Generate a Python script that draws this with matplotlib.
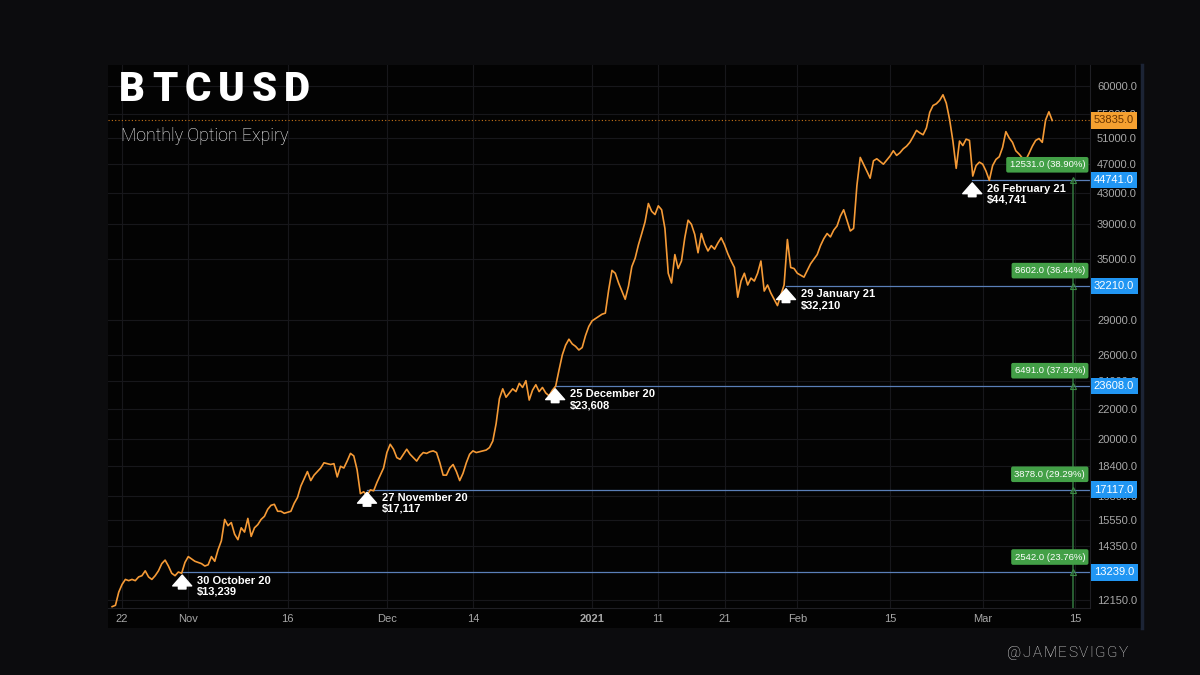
import matplotlib
matplotlib.use('Agg')
import matplotlib.pyplot as plt
import matplotlib.dates as mdates
import pandas as pd
from matplotlib.ticker import FuncFormatter, NullFormatter, NullLocator
from matplotlib.transforms import blended_transform_factory, offset_copy
from matplotlib.patches import Rectangle
from matplotlib.lines import Line2D

plt.rcParams['font.family'] = ['Liberation Sans', 'DejaVu Sans']

# BTCUSD, 12h closes, starting 2020-10-20 12:00
prices = [
    11900,
    11950, 12450, 12750, 12950, 12900, 12950, 12900, 13050, 13100, 13300,  # Oct 21-25
    13050, 12950, 13100, 13300, 13600, 13750, 13500, 13200, 13100, 13250,  # Oct 26-30
    13200, 13650, 13900, 13800, 13700, 13650, 13600, 13500, 13550, 13900,  # Oct 31-Nov 4
    13700, 14200, 14600, 15600, 15300, 15450, 14900, 14650, 15200, 15000,  # Nov 5-9
    15650, 14800, 15200, 15350, 15600, 15750, 16100, 16300, 16350, 16000,  # Nov 10-14
    16000, 15900, 15950, 16000, 16400, 16700, 17300, 17700, 18100, 17600,  # Nov 15-19
    17900, 18100, 18300, 18600, 18550, 18500, 18550, 17800, 18400, 18300,  # Nov 20-24
    18700, 19150, 19000, 18200, 16900, 17000, 16800, 17100, 17050, 17500,  # Nov 25-29
    17900, 18300, 19200, 19700, 19400, 18900, 18800, 19100, 19400, 19100,  # Nov 30-Dec 4
    18900, 18700, 19000, 19200, 19150, 19250, 19300, 19200, 18600, 17900,  # Dec 5-9
    17900, 18300, 18500, 18100, 17600, 18000, 18600, 19100, 19300, 19200,  # Dec 10-14
    19250, 19300, 19350, 19500, 19900, 21000, 22700, 23400, 22800, 23100,  # Dec 15-19
    23400, 23200, 23800, 23500, 24000, 22600, 23300, 23700, 23200, 23500,  # Dec 20-24
    23100, 22900, 23300, 23600, 24800, 26000, 26800, 27300, 26900, 26700,  # Dec 25-29
    26400, 26600, 27600, 28400, 28900, 29100, 29300, 29500, 29600, 31800,  # Dec 30-Jan 3
    33800, 33500, 32500, 31700, 30900, 32200, 34200, 35100, 36600, 37900,  # Jan 4-8
    39300, 41600, 40600, 40200, 41300, 40800, 38500, 33500, 32500, 35500,  # Jan 9-13
    34000, 34800, 37400, 39500, 39000, 37800, 35700, 37900, 36700, 35900,  # Jan 14-18
    36500, 36100, 36800, 37400, 36600, 35600, 34800, 34100, 31100, 32700,  # Jan 19-23
    33500, 32300, 33000, 32700, 33500, 34800, 31700, 32300, 31500, 30900,  # Jan 24-28
    30300, 31300, 32300, 37200, 34100, 34000, 33500, 33300, 33100, 33800,  # Jan 29-Feb 2
    34500, 35000, 35500, 36500, 37300, 37900, 37500, 38300, 38800, 40000,  # Feb 3-7
    40800, 39500, 38200, 38500, 44000, 48000, 47000, 46000, 45000, 47500,  # Feb 8-12
    47800, 47400, 47000, 47600, 48200, 49000, 48300, 48700, 49300, 49700,  # Feb 13-17
    50300, 51200, 52200, 51800, 51500, 52600, 55200, 56400, 56700, 57300,  # Feb 18-22
    58300, 56800, 54000, 50500, 46400, 50500, 49800, 50800, 50600, 45300,  # Feb 23-27
    46800, 47300, 47000, 46000, 44700, 46800, 47700, 48100, 49500, 52000,  # Feb 28-Mar 4
    51000, 50300, 49000, 48500, 47900, 47600, 48600, 49700, 50600, 50900,  # Mar 5-9
    50300, 53900, 55300, 53835,                                            # Mar 10-11
]
dates = pd.date_range('2020-10-20 12:00', periods=len(prices), freq='12h')
last_price = 53835.0

# monthly option expiries (marker positions as drawn on the chart)
expiry_times = ['2020-10-31 02:00', '2020-11-28 00:00', '2020-12-26 10:00',
                '2021-01-30 07:00', '2021-02-27 10:00']
expiry_prices = [13239, 17117, 23608, 32210, 44741]
expiry_labels = ['30 October 20\n$13,239', '27 November 20\n$17,117',
                 '25 December 20\n$23,608', '29 January 21\n$32,210',
                 '26 February 21\n$44,741']
range_labels = ['2542.0 (23.76%)', '3878.0 (29.29%)', '6491.0 (37.92%)',
                '8602.0 (36.44%)', '12531.0 (38.90%)']
range_time = '2021-03-14 17:00'

ytick_values = [12150, 14350, 15550, 16800, 18400, 20000, 22000, 24000, 26000,
                29000, 35000, 39000, 43000, 47000, 51000, 55000, 60000]
xtick_dates = ['2020-10-22', '2020-11-01', '2020-11-16', '2020-12-01', '2020-12-14',
               '2021-01-01', '2021-01-11', '2021-01-21', '2021-02-01', '2021-02-15',
               '2021-03-01', '2021-03-15']
xtick_labels = ['22', 'Nov', '16', 'Dec', '14', '2021', '11', '21', 'Feb', '15', 'Mar', '15']

W, H = 1200, 675
fig = plt.figure(figsize=(12, 6.75), dpi=100, facecolor='#0c0c0e')
fig.patches.append(Rectangle((108 / W, 1 - 628 / H), (1143 - 108) / W, (628 - 65) / H,
                             transform=fig.transFigure, fc='#030303', ec='none', zorder=-2))
fig.add_artist(Line2D([1142 / W] * 2, [1 - 628 / H, 1 - 65 / H], color='#1c2435', lw=2.5))

ax = fig.add_axes([108 / W, 1 - 608 / H, (1090 - 108) / W, (608 - 65) / H])
ax.set_facecolor('#030303')
ax.set_yscale('log')
ax.set_ylim(11850, 63950)
x_end = pd.Timestamp('2021-03-17 05:00')
ax.set_xlim(pd.Timestamp('2020-10-19 21:00'), x_end)

ax.yaxis.tick_right()
ax.set_yticks(ytick_values)
ax.yaxis.set_major_formatter(FuncFormatter(lambda v, _: f'{v:.1f}'))
ax.yaxis.set_minor_locator(NullLocator())
ax.yaxis.set_minor_formatter(NullFormatter())
ax.set_xticks(pd.to_datetime(xtick_dates))
ax.set_xticklabels(xtick_labels)
for lab in ax.get_xticklabels():
    if lab.get_text() == '2021':
        lab.set_fontweight('bold')
ax.tick_params(axis='y', length=0, pad=5, labelsize=8, labelcolor='#a8a8a8')
ax.tick_params(axis='x', length=0, pad=4, labelsize=8, labelcolor='#a8a8a8')
ax.grid(True, color='#17171b', lw=0.8)
ax.set_axisbelow(True)
for s in ['top', 'left']:
    ax.spines[s].set_visible(False)
for s in ['bottom', 'right']:
    ax.spines[s].set_color('#1f1f24')

# price line
ax.plot(dates, prices, color='#f59a36', lw=1.2, zorder=4)

ytrans = blended_transform_factory(ax.transAxes, ax.transData)

# last price
ax.axhline(last_price, color='#c8741a', lw=0.8, ls=(0, (1, 2)), zorder=3)
ax.text(1.004, last_price, f'{last_price:.1f}', transform=ytrans, ha='left', va='center',
        fontsize=8, color='#6b3500', clip_on=False, zorder=6,
        bbox=dict(boxstyle='square,pad=0.3', fc='#f5a030', ec='none'))

# expiry levels, arrows and notes
rt = pd.Timestamp(range_time)
ax.plot([rt, rt], [11850, expiry_prices[-1]], color='#2f6e3a', lw=1.2, zorder=3)
tip = offset_copy(ax.transData, fig=fig, x=0, y=-2, units='points')
tail = offset_copy(ax.transData, fig=fig, x=0, y=-12, units='points')
for t, p, lab, rl in zip(expiry_times, expiry_prices, expiry_labels, range_labels):
    t = pd.Timestamp(t)
    tn, pf = mdates.date2num(t), float(p)
    ax.plot([t, x_end], [p, p], color='#5a7fb8', lw=0.9, zorder=2)
    ax.plot([rt], [p], marker='^', ms=4, mfc='none', mec='#3c8a46', mew=0.8, zorder=3)
    ax.annotate('', xy=(tn, pf), xycoords=tip, xytext=(tn, pf), textcoords=tail,
                arrowprops=dict(arrowstyle='simple,head_length=0.6,head_width=1.05,tail_width=0.42',
                                color='white', shrinkA=0, shrinkB=0, mutation_scale=13),
                zorder=6)
    ax.annotate(lab, xy=(tn, pf), xytext=(10.5, -2.5), textcoords='offset points',
                ha='left', va='top', fontsize=8, fontweight='bold', color='white',
                linespacing=1.1, zorder=6)
    ax.text(1.004, pf, f'{pf:.1f}', transform=ytrans, ha='left', va='center',
            fontsize=8, color='white', clip_on=False, zorder=6,
            bbox=dict(boxstyle='square,pad=0.3', fc='#2196f3', ec='none'))
    ax.annotate(rl, xy=(1, pf), xycoords=ytrans, xytext=(-3.5, 11), textcoords='offset points',
                ha='right', va='center', fontsize=6.8, color='white', zorder=6,
                bbox=dict(boxstyle='round,pad=0.35,rounding_size=0.2', fc='#43a047', ec='none'))


def spaced_text(x0, y0, s, width, **kw):
    # draw s with letters spread so it spans `width` pixels from x0 (baseline at y0)
    r = fig.canvas.get_renderer()
    items = [fig.text(0, 0, ch, va='baseline', ha='left', **kw) for ch in s]
    ws = [it.get_window_extent(renderer=r).width for it in items]
    gap = (width - sum(ws)) / (len(s) - 1)
    x = x0
    for it, w in zip(items, ws):
        it.set_position((x / W, 1 - y0 / H))
        x += w + gap


spaced_text(119, 101, 'BTCUSD', 191, fontsize=29, fontweight='black',
            family=['Roboto', 'DejaVu Sans'], color='white')
fig.text(121 / W, 1 - 141 / H, 'Monthly Option Expiry', fontsize=12.8, fontweight='light',
         family=['Roboto', 'DejaVu Sans'], color='white', va='baseline')
spaced_text(1007, 657, '@JAMESVIGGY', 121, fontsize=11, fontweight='light',
            family=['Roboto', 'DejaVu Sans'], color='#e4e4e4')

fig.savefig('out.png', dpi=100, facecolor=fig.get_facecolor())
